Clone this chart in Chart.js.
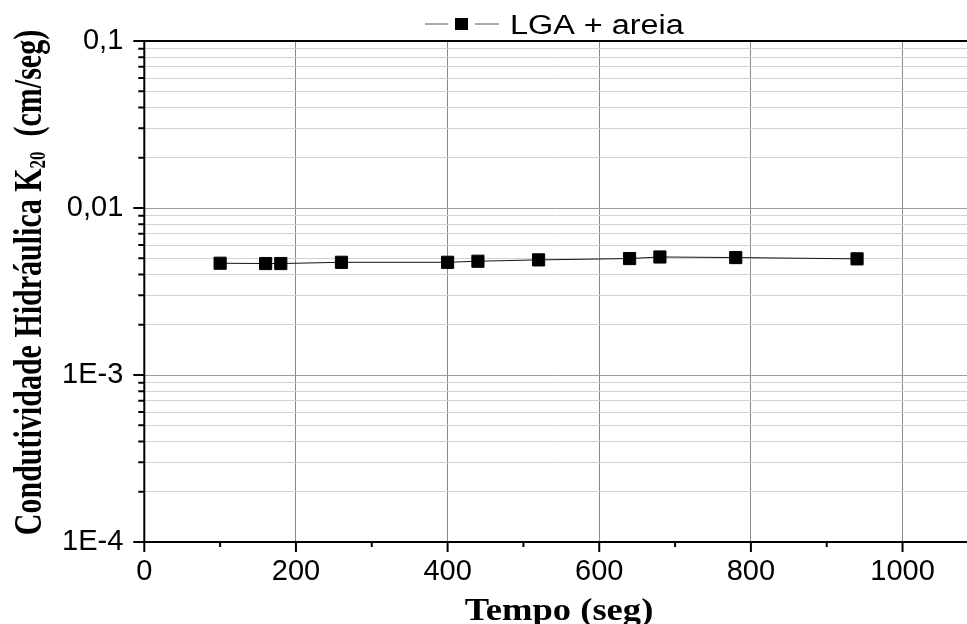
<!DOCTYPE html>
<html>
<head>
<meta charset="utf-8">
<script src="https://cdn.jsdelivr.net/npm/chart.js@4.4.0/dist/chart.umd.min.js"></script>
<style>
html, body { margin: 0; padding: 0; background: #fff; }
canvas { display: block; }
</style>
</head>
<body>
<canvas id="grafico" width="967" height="624"></canvas>
<script>
// dados
const tempo = [100, 160, 180, 260, 400, 440, 520, 640, 680, 780, 940];
const condutividade = [0.00467, 0.00465, 0.00465, 0.00473, 0.00473, 0.00480, 0.00489, 0.00498, 0.00509, 0.00505, 0.00496];
const serieNome = 'LGA + areia';

const xMajor = [0, 200, 400, 600, 800, 1000];
const xMinor = [100, 300, 500, 700, 900];
const yMajor = [1e-4, 1e-3, 0.01, 0.1];
const yLabels = ['1E-4', '1E-3', '0,01', '0,1'];
const yMinorMult = [2, 3, 4, 5, 6, 7, 8, 9];

const tickFont = { family: 'Liberation Sans', size: 29 };

// ticks menores do eixo y (2..9 em cada decada)
const yMinor = [];
for (let i = 0; i < yMajor.length - 1; i++) {
    for (const m of yMinorMult) yMinor.push(+(yMajor[i] * m).toPrecision(3));
}

// eixos, marcas, titulos e legenda no estilo Origin
const estilo = {
    id: 'estilo',
    afterDraw(chart) {
        const ctx = chart.ctx;
        const a = chart.chartArea;
        const sx = chart.scales.x;
        const sy = chart.scales.y;
        ctx.save();
        ctx.strokeStyle = '#000';
        ctx.lineWidth = 2;
        ctx.beginPath();
        // marcas do eixo x
        for (const v of xMajor) { const p = sx.getPixelForValue(v); ctx.moveTo(p, a.bottom); ctx.lineTo(p, a.bottom + 10); }
        for (const v of xMinor) { const p = sx.getPixelForValue(v); ctx.moveTo(p, a.bottom); ctx.lineTo(p, a.bottom + 5); }
        // marcas do eixo y
        for (const v of yMajor) { const p = sy.getPixelForValue(v); ctx.moveTo(a.left, p); ctx.lineTo(a.left - 11, p); }
        for (const v of yMinor) { const p = sy.getPixelForValue(v); ctx.moveTo(a.left, p); ctx.lineTo(a.left - 6, p); }
        // linhas dos eixos
        ctx.moveTo(a.left, a.top); ctx.lineTo(a.left, a.bottom + 1);
        ctx.moveTo(a.left - 1, a.bottom); ctx.lineTo(a.right, a.bottom);
        ctx.moveTo(a.left - 1, a.top); ctx.lineTo(a.right, a.top);
        ctx.stroke();

        ctx.fillStyle = '#000';
        // titulo x
        ctx.save();
        ctx.translate(559, 620);
        ctx.scale(1.18, 1);
        ctx.font = 'bold 31px "Liberation Serif"';
        ctx.textAlign = 'center';
        ctx.textBaseline = 'alphabetic';
        ctx.fillText('Tempo (seg)', 0, 0);
        ctx.restore();

        // titulo y com subscrito
        ctx.save();
        ctx.translate(41, 282.5);
        ctx.rotate(-Math.PI / 2);
        ctx.scale(1, 1.3);
        ctx.textBaseline = 'alphabetic';
        ctx.textAlign = 'left';
        const t1 = 'Condutividade Hidráulica K', t2 = '20', t3 = '  (cm/seg)';
        ctx.font = 'bold 30px "Liberation Serif"';
        const w1 = ctx.measureText(t1).width, w3 = ctx.measureText(t3).width;
        ctx.font = 'bold 17px "Liberation Serif"';
        const w2 = ctx.measureText(t2).width;
        let x0 = -(w1 + w2 + w3) / 2;
        ctx.font = 'bold 30px "Liberation Serif"';
        ctx.fillText(t1, x0, 0);
        ctx.font = 'bold 17px "Liberation Serif"';
        ctx.fillText(t2, x0 + w1, 3);
        ctx.font = 'bold 30px "Liberation Serif"';
        ctx.fillText(t3, x0 + w1 + w2, 0);
        ctx.restore();

        // legenda
        ctx.strokeStyle = '#555';
        ctx.lineWidth = 1;
        ctx.beginPath();
        ctx.moveTo(425, 24); ctx.lineTo(448, 24);
        ctx.moveTo(475, 24); ctx.lineTo(499, 24);
        ctx.stroke();
        ctx.fillRect(455, 18, 13, 12);
        ctx.save();
        ctx.translate(510, 34);
        ctx.scale(1.2, 1);
        ctx.font = '27px "Liberation Sans"';
        ctx.textAlign = 'left';
        ctx.fillText(serieNome, 0, 0);
        ctx.restore();
        ctx.restore();
    }
};

const config = {
    type: 'scatter',
    data: {
        datasets: [{
            label: serieNome,
            data: tempo.map((t, i) => ({ x: t, y: condutividade[i] })),
            showLine: true,
            borderColor: '#111',
            borderWidth: 1,
            pointStyle: 'rect',
            pointRadius: 8.6,
            pointBackgroundColor: '#000',
            pointBorderColor: '#000',
            pointBorderWidth: 1
        }]
    },
    options: {
        responsive: false,
        animation: false,
        devicePixelRatio: 1,
        layout: { autoPadding: false, padding: { top: 41, right: 0, left: 0, bottom: 0 } },
        plugins: { legend: { display: false }, tooltip: { enabled: false } },
        scales: {
            x: {
                type: 'linear',
                min: 0,
                max: 1085,
                afterBuildTicks: s => {
                    s.ticks = [...xMajor.map(v => ({ value: v, major: true })), ...xMinor.map(v => ({ value: v, major: false }))]
                        .sort((p, q) => p.value - q.value);
                },
                afterFit: s => { s.height = 82; s.paddingRight = 0; s.paddingLeft = 0; },
                ticks: {
                    autoSkip: false,
                    maxRotation: 0,
                    padding: 13,
                    color: '#000',
                    font: tickFont,
                    callback: v => xMajor.includes(v) ? String(v) : ''
                },
                grid: {
                    drawTicks: false,
                    lineWidth: 1,
                    color: c => (c.tick && c.tick.major && c.tick.value > 0) ? '#8a8a8a' : 'rgba(0,0,0,0)'
                },
                border: { display: false }
            },
            y: {
                type: 'logarithmic',
                min: 1e-4,
                max: 0.1,
                afterBuildTicks: s => {
                    s.ticks = [...yMajor.map(v => ({ value: v, major: true })), ...yMinor.map(v => ({ value: v, major: false }))]
                        .sort((p, q) => p.value - q.value);
                },
                afterFit: s => { s.width = 144.3; s.paddingTop = 0; s.paddingBottom = 0; },
                ticks: {
                    autoSkip: false,
                    padding: 21,
                    color: '#000',
                    font: tickFont,
                    callback: v => {
                        const i = yMajor.findIndex(m => Math.abs(m - v) / m < 1e-6);
                        return i >= 0 ? yLabels[i] : '';
                    }
                },
                grid: {
                    drawTicks: false,
                    lineWidth: 1,
                    color: c => {
                        if (!c.tick) return 'rgba(0,0,0,0)';
                        if (c.tick.value >= 0.1 || c.tick.value <= 1e-4) return 'rgba(0,0,0,0)';
                        return c.tick.major ? '#9c9c9c' : '#d2d2d2';
                    }
                },
                border: { display: false }
            }
        }
    },
    plugins: [estilo]
};

const chart = new Chart(document.getElementById('grafico'), config);
</script>
</body>
</html>
